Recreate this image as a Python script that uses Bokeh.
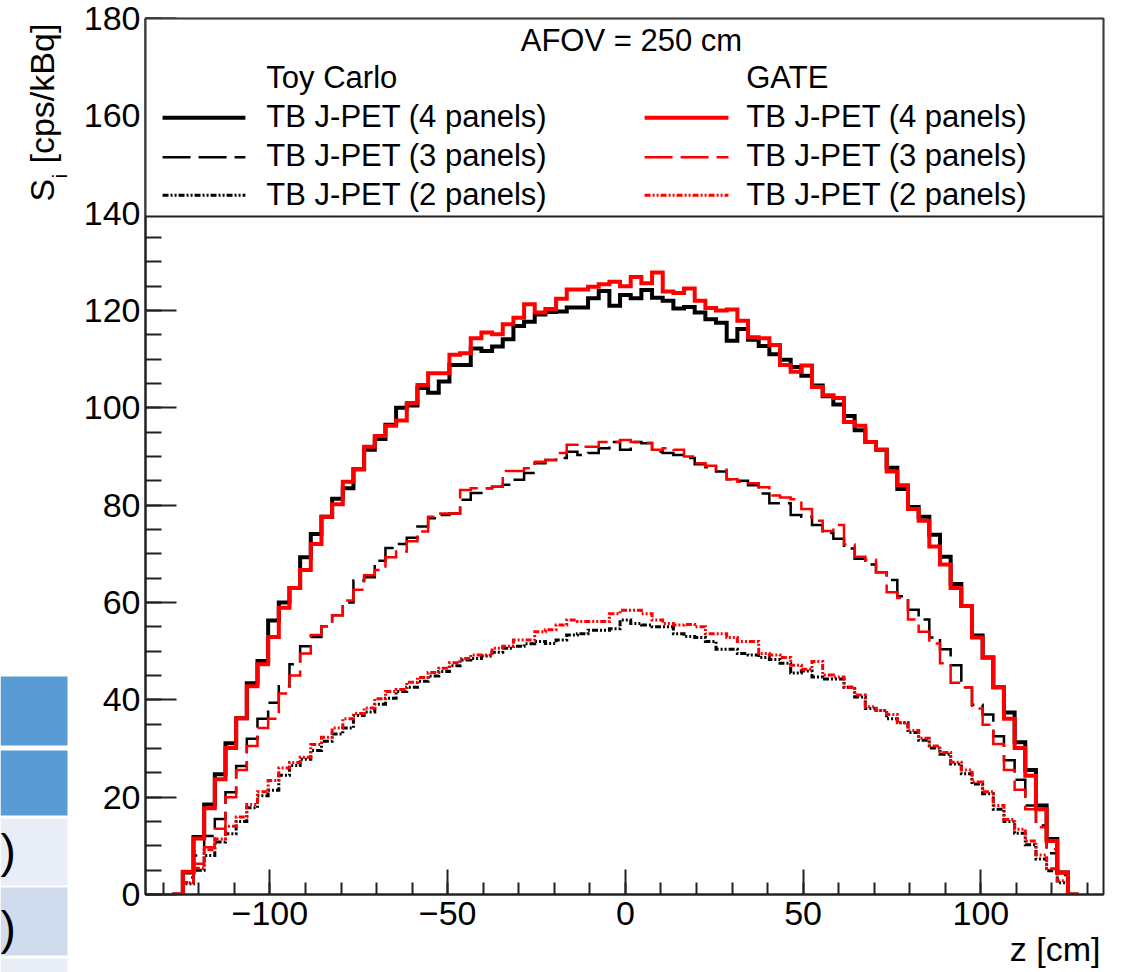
import math
import numpy as np
from bokeh.plotting import figure
from bokeh.models import Range1d, SingleIntervalTicker, BoxAnnotation, Label, Title
from bokeh.layouts import row
from bokeh.embed import file_html
from bokeh.resources import INLINE
from bokeh.core.properties import value

FONT = "Liberation Sans"

# ---------------- data (S_i in cps/kBq per 3 cm bin, z from -127.5 to 127.5 cm) -------------
bin_start = -127.5
bin_width = 3.0
n_bins = 85

toy_4 = [0, 4.5, 11.8, 18.5, 24.7, 31.1, 36.2, 43.4, 48.0, 56.3, 60.0, 63.0, 69.3, 74.1, 77.6,
         81.3, 83.5, 87.4, 91.4, 93.6, 96.5, 100.0, 100.5,
         104.1, 103.1, 105.4, 108.8, 108.8, 112.2, 111.7, 112.6, 114.1, 116.8, 117.7, 119.2, 119.7,
         119.8, 120.6, 120.6, 122.5, 124.0, 121.0, 123.2, 122.5, 124.2, 122.6, 122.0, 120.4, 120.7, 119.6,
         118.2, 117.5, 113.8, 116.2, 114.0, 112.7, 111.0, 109.9, 108.4, 106.6, 104.6, 102.4, 100.7, 98.3,
         95.4, 93.0, 91.4, 87.7, 83.3, 79.6, 77.6, 73.9, 69.4, 63.8, 59.3, 53.2, 48.7, 42.6, 37.4, 31.3,
         25.6, 18.3, 11.4, 4.5, 0]
gate_4 = [0, 4.7, 11.5, 17.7, 23.7, 30.1, 36.2, 42.8, 47.3, 52.9, 58.9, 63.0, 66.7, 72.0, 77.6,
          80.2, 84.8, 87.4, 92.0, 94.2, 96.3, 97.4, 101.0,
          104.7, 107.1, 107.1, 110.9, 111.2, 114.3, 115.5, 115.1, 117.2, 118.5, 121.3, 119.6, 120.3,
          122.4, 124.3, 124.3, 124.9, 125.4, 125.9, 125.0, 126.9, 125.6, 127.8, 123.9, 123.6, 124.5, 122.0,
          120.5, 120.0, 120.2, 117.9, 114.5, 114.3, 112.9, 108.8, 107.4, 108.7, 104.3, 102.6, 102.0, 97.1,
          96.3, 93.0, 91.4, 86.9, 84.1, 79.2, 76.8, 71.5, 67.8, 63.0, 59.3, 52.8, 48.7, 42.6, 36.1, 30.1,
          24.4, 17.5, 11.0, 4.5, 0]
toy_3 = [0, 3.5, 8.0, 12.0, 15.5, 21.0, 26.4, 32.0, 36.1, 39.4, 42.8, 47.3, 51.0, 52.9, 55.1,
         57.4, 60.0, 64.5, 65.2, 68.6, 71.2, 72.0, 73.3,
         75.6, 77.3, 78.0, 78.3, 81.1, 82.5, 83.5, 83.8, 84.2, 85.2, 86.6, 88.6, 89.3, 89.7, 91.0,
         90.3, 90.7, 91.7, 93.0, 91.4, 93.0, 92.7, 91.0, 90.7, 90.3, 89.7, 88.4,
         87.8, 86.9, 85.3, 85.0, 84.1, 82.4, 80.4, 80.4, 78.0, 77.6, 75.9, 74.3, 73.1, 71.1, 69.0,
         67.8, 66.2, 64.6, 61.3, 58.5, 56.5, 52.8, 50.4, 47.1, 42.6, 39.0, 37.0, 32.5, 27.6, 23.6,
         18.3, 14.2, 8.5, 4.0, 0]
gate_3 = [0, 2.5, 6.3, 9.7, 13.5, 20.0, 25.6, 30.5, 34.2, 36.1, 41.3, 45.0, 49.5, 53.3, 55.1,
          57.4, 60.4, 62.6, 65.6, 66.7, 69.3, 70.5, 72.6,
          74.6, 77.6, 78.3, 78.3, 83.1, 83.5, 83.5, 83.8, 87.0, 87.0, 87.6, 88.9, 89.3, 90.7, 92.4,
          92.0, 92.0, 93.0, 93.0, 93.4, 93.0, 92.8, 91.4, 91.7, 91.4, 90.0, 88.6,
          88.1, 87.3, 85.3, 84.8, 84.5, 83.7, 82.0, 81.6, 81.2, 79.2, 76.8, 74.7, 75.9, 71.9, 69.4,
          68.8, 66.2, 62.1, 60.9, 56.5, 54.0, 51.6, 47.5, 43.5, 42.6, 38.2, 34.9, 30.9, 25.6, 21.5,
          17.5, 13.8, 9.3, 4.9, 0]
toy_2 = [0, 2.2, 5.0, 8.0, 10.8, 12.5, 15.0, 17.8, 20.3, 21.4, 24.5, 26.5, 27.8, 29.6, 31.5,
         33.0, 34.2, 36.8, 37.5, 39.1, 40.3, 41.7, 42.6,
         43.8, 44.9, 45.8, 47.0, 48.2, 48.5, 49.0, 49.8, 50.6, 51.0, 51.5, 52.0, 51.6, 52.3, 53.3,
         53.6, 54.3, 54.3, 54.6, 56.4, 55.7, 55.4, 55.0, 55.0, 53.6, 53.0, 52.8,
         52.0, 50.4, 50.4, 49.5, 49.2, 48.7, 48.3, 47.5, 45.5, 45.9, 44.7, 44.3, 44.3, 42.6, 40.6,
         38.2, 37.8, 36.1, 35.3, 33.3, 31.7, 30.1, 28.8, 26.8, 24.8, 22.7, 20.7, 17.5, 15.0, 12.6,
         10.2, 7.3, 4.9, 2.4, 0]
gate_2 = [0, 2.4, 5.4, 9.2, 11.4, 14.0, 15.9, 18.5, 21.1, 23.4, 26.0, 27.1, 28.2, 30.8, 32.3,
          34.2, 36.1, 37.2, 38.3, 40.2, 41.7, 42.1, 43.6,
          44.6, 45.6, 46.5, 47.6, 48.5, 49.2, 49.2, 50.6, 51.0, 52.3, 52.3, 54.0, 54.4, 55.4, 56.4,
          56.1, 56.1, 56.1, 57.7, 58.4, 58.4, 57.7, 56.4, 55.7, 55.4, 55.5, 55.0,
          53.6, 53.6, 52.8, 52.0, 52.0, 49.5, 49.2, 48.7, 47.1, 46.3, 47.9, 45.1, 44.7, 42.6, 41.0,
          38.6, 37.8, 37.0, 35.3, 33.7, 32.1, 30.5, 29.2, 27.2, 25.6, 23.1, 21.1, 18.3, 15.4, 13.4,
          11.0, 8.1, 5.3, 2.8, 0]

legend_header = "AFOV = 250 cm"
col_titles = ["Toy Carlo", "GATE"]
entry_labels = ["TB J-PET (4 panels)", "TB J-PET (3 panels)", "TB J-PET (2 panels)"]
x_major_labels = {-100: "\u2212100", -50: "\u221250", 0: "0", 50: "50", 100: "100"}
x_title = "z [cm]"

# ---------------- styles / layout ----------------
edges = np.arange(n_bins + 1) * bin_width + bin_start
styles = [  # (values, color, width, dash)
    (toy_4, "black", 4, "solid"),
    (toy_3, "black", 2.5, "28 8"),
    (toy_2, "black", 3, "6 2 2 2 2 2"),
    (gate_4, "red", 4, "solid"),
    (gate_3, "red", 2.5, "28 8"),
    (gate_2, "red", 3, "6 2 2 2 2 2"),
]

H = 972
W_LEFT = 80
CELL_W = 67
W_MAIN = 1127 - W_LEFT
AXC = "#222222"

p = figure(width=W_MAIN, height=H, x_range=Range1d(-135, 134.5), y_range=Range1d(0, 180),
           output_backend="svg", toolbar_location=None,
           min_border_left=143 - W_LEFT, min_border_right=24, min_border_top=18, min_border_bottom=78)
try:
    p.frame_align = False
except Exception:
    pass
p.grid.visible = False
p.outline_line_color = AXC
p.outline_line_width = 2
p.background_fill_color = "white"
p.border_fill_color = "white"

for ax in (p.xaxis[0], p.yaxis[0]):
    ax.axis_line_color = AXC
    ax.axis_line_width = 2
    ax.major_tick_line_color = AXC
    ax.minor_tick_line_color = AXC
    ax.major_tick_line_width = 2
    ax.minor_tick_line_width = 2
    ax.major_tick_out = 0
    ax.minor_tick_out = 0
    ax.major_label_text_font = FONT
    ax.major_label_text_font_size = "34px"
    ax.major_label_text_color = "black"

p.xaxis.ticker = SingleIntervalTicker(interval=50, num_minor_ticks=5)
p.xaxis.major_tick_in = 25
p.xaxis.minor_tick_in = 12
p.xaxis.major_label_standoff = 7
p.xaxis.major_label_overrides = x_major_labels

p.yaxis.ticker = SingleIntervalTicker(interval=20, num_minor_ticks=4)
p.yaxis.major_tick_in = 31
p.yaxis.minor_tick_in = 16
p.yaxis.major_label_standoff = 5

# x-axis title, right aligned under the axis
p.add_layout(Title(text=x_title, align="right", offset=3, standoff=0, text_font=FONT,
                   text_font_size="34px", text_font_style="normal", text_color="black"), "below")

for vals, col, lw, dash in styles:
    yv = list(vals) + [vals[-1]]
    p.step(x=edges, y=yv, mode="after", line_color=col, line_width=lw, line_dash=dash,
           line_join="miter")

# legend box
box = BoxAnnotation(left=-135, right=134.5, bottom=139.3, top=180, fill_color="white", fill_alpha=1.0,
                    line_color=AXC, line_alpha=1.0, line_width=2, level="annotation")
p.add_layout(box)


def lab(x, y, text, align="left", size="31px"):
    p.add_layout(Label(x=x, y=y, text=text, text_font=FONT, text_font_size=size, text_color="black",
                       text_align=align, text_baseline="alphabetic", level="overlay"))


lab(1.7, 175.5, legend_header, align="center")
col_x = [-101.0, 34.0]
row_y = [167.8, 159.8, 151.8, 143.9]
samp_x = [(-130.2, -106.9), (5.4, 29.0)]
samp_y = [159.6, 151.5, 143.7]
for c in range(2):
    lab(col_x[c], row_y[0], col_titles[c])
    for r in range(3):
        lab(col_x[c], row_y[r + 1], entry_labels[r])
        vals, col, lw, dash = styles[c * 3 + r]
        p.line(x=list(samp_x[c]), y=[samp_y[r]] * 2, line_color=col, line_width=lw, line_dash=dash,
               level="overlay")

# ---------------- left strip: y-axis title and the clipped table cells ----------------
lf = figure(width=W_LEFT, height=H, x_range=Range1d(0, W_LEFT), y_range=Range1d(0, H),
            output_backend="svg", toolbar_location=None, x_axis_location=None, y_axis_location=None,
            min_border=0)
try:
    lf.frame_align = False
except Exception:
    pass
lf.grid.visible = False
lf.outline_line_color = None
lf.background_fill_color = "white"
lf.border_fill_color = "white"

cell_top = [296, 222, 154, 85, 14]
cell_bot = [227, 157, 87, 17, 0]
cell_col = ["#5B9BD5", "#5B9BD5", "#E8EDF6", "#D0DCEE", "#E8EDF6"]
lf.quad(left=[0] * 5, right=[CELL_W] * 5, top=cell_top, bottom=cell_bot, fill_color=cell_col,
        line_color=None)
lf.text(x=[0, 0], y=[122, 45], text=[")", ")"], text_font=value(FONT), text_font_size="46px",
        text_align="left", text_baseline="alphabetic", text_color="black")

lf.text(x=[41], y=[771], text=["S"], angle=math.pi / 2, text_font=value(FONT), text_font_size="34px",
        text_align="left", text_baseline="alphabetic", text_color="black")
lf.text(x=[59], y=[794], text=["i"], angle=math.pi / 2, text_font=value(FONT), text_font_size="21px",
        text_align="left", text_baseline="alphabetic", text_color="black")
lf.text(x=[41], y=[809], text=["[cps/kBq]"], angle=math.pi / 2, text_font=value(FONT),
        text_font_size="34px", text_align="left", text_baseline="alphabetic", text_color="black")

layout = row(lf, p)
open("out.html", "w").write(file_html(layout, INLINE))
